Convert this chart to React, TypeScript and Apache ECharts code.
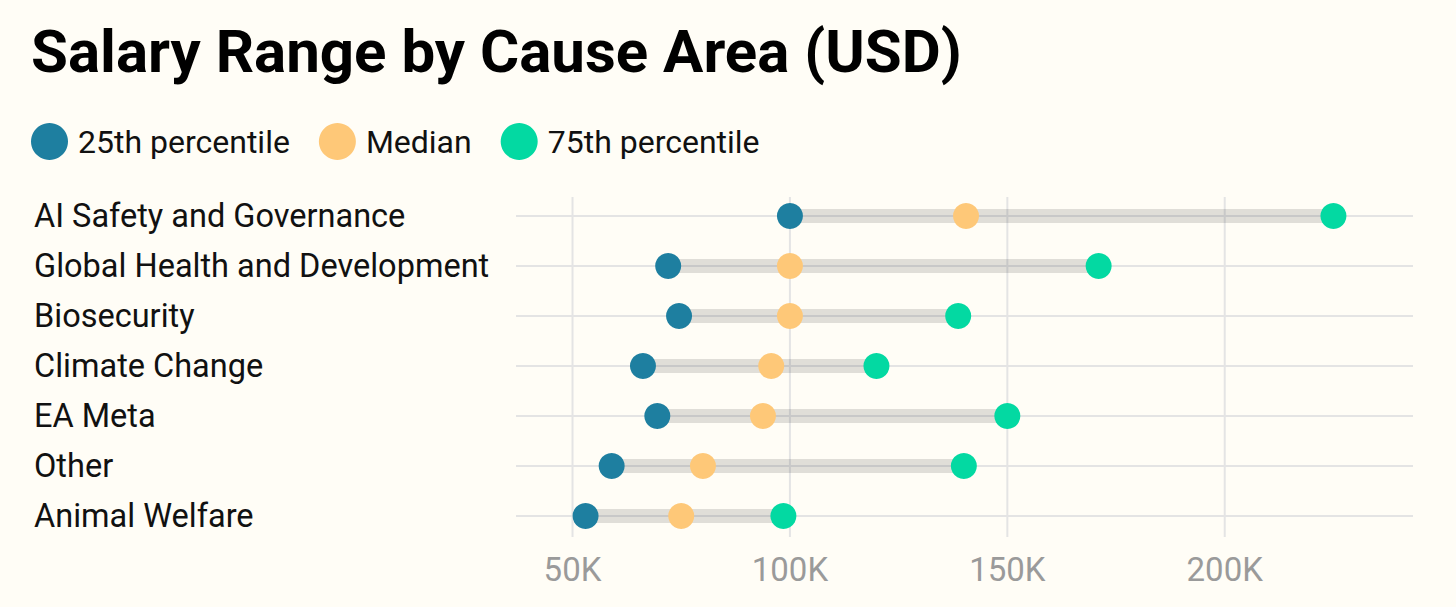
import React, { useEffect, useRef } from "react";
import * as echarts from "echarts";

const categories = [
  "AI Safety and Governance",
  "Global Health and Development",
  "Biosecurity",
  "Climate Change",
  "EA Meta",
  "Other",
  "Animal Welfare",
];
const p25 = [100000, 72000, 74500, 66200, 69500, 59000, 53000];
const median = [140500, 100000, 100000, 95700, 93800, 80000, 75000];
const p75 = [225000, 171000, 138700, 119900, 150000, 140000, 98500];
const xTicks = [50000, 100000, 150000, 200000];
const seriesNames = ["25th percentile", "Median", "75th percentile"];
const colors = ["#1e7fa0", "#fec878", "#03d9a2"];

const FONT = "Roboto, 'Noto Sans', sans-serif";

export default function App() {
  const ref = useRef<HTMLDivElement>(null);
  useEffect(() => {
    document.body.style.margin = "0";
    document.body.style.background = "#fffdf6";
    const chart = echarts.init(ref.current!, null, { renderer: "svg" });
    const option: any = {
      animation: false,
      backgroundColor: "#fffdf6",
      title: {
        text: "Salary Range by Cause Area (USD)",
        left: 31,
        top: 21,
        padding: 0,
        textStyle: { fontSize: 60, fontWeight: "bold", color: "#000", fontFamily: FONT },
      },
      legend: {
        data: seriesNames,
        left: 31,
        top: 123,
        padding: 0,
        icon: "circle",
        itemWidth: 37,
        itemHeight: 37,
        itemGap: 29,
        textStyle: { fontSize: 32, color: "#111", fontFamily: FONT, padding: [0, 0, 0, 5] },
      },
      grid: { left: 516, right: 43, top: 191, bottom: 66, containLabel: false },
      xAxis: {
        type: "value",
        min: 37000,
        max: 243300,
        axisLine: { show: false },
        axisTick: { show: false },
        splitLine: { show: false },
        axisLabel: {
          showMinLabel: false,
          showMaxLabel: false,
          margin: 12,
          fontSize: 33,
          color: "#9a9a9a",
          fontFamily: FONT,
          formatter: (v: number) => (v % 50000 === 0 ? v / 1000 + "K" : ""),
        },
      },
      yAxis: {
        type: "category",
        data: categories,
        inverse: true,
        axisLine: { show: false },
        axisTick: { show: false },
        splitLine: { show: false },
        axisLabel: {
          align: "left",
          margin: 482,
          fontSize: 32.5,
          color: "#111",
          fontFamily: FONT,
        },
      },
      series: [
        {
          type: "custom",
          name: "vgrid",
          z: 1,
          silent: true,
          data: xTicks.map((v) => [v, 0]),
          encode: { x: 0, y: 1 },
          renderItem: (params: any, api: any) => {
            const cs = params.coordSys;
            const x = api.coord([api.value(0), 0])[0];
            return {
              type: "line",
              shape: { x1: x, y1: cs.y + 6, x2: x, y2: cs.y + cs.height - 4 },
              style: { stroke: "#e4e4e4", lineWidth: 2 },
            };
          },
        },
        {
          type: "custom",
          name: "rows",
          z: 2,
          silent: true,
          data: categories.map((c, i) => [p25[i], p75[i], i]),
          encode: { x: [0, 1], y: 2 },
          renderItem: (params: any, api: any) => {
            const cs = params.coordSys;
            const idx = api.value(2);
            const a = api.coord([api.value(0), idx]);
            const b = api.coord([api.value(1), idx]);
            const y = a[1];
            return {
              type: "group",
              children: [
                {
                  type: "line",
                  shape: { x1: cs.x, y1: y, x2: cs.x + cs.width, y2: y },
                  style: { stroke: "#e4e4e4", lineWidth: 2 },
                },
                {
                  type: "rect",
                  shape: { x: a[0], y: y - 7, width: b[0] - a[0], height: 14 },
                  style: { fill: "rgba(0,0,0,0.12)" },
                },
              ],
            };
          },
        },
        ...[p25, median, p75].map((arr, k) => ({
          type: "scatter",
          name: seriesNames[k],
          z: 3 + k,
          symbol: "circle",
          symbolSize: 26,
          itemStyle: { color: colors[k], opacity: 1 },
          data: arr.map((v, i) => [v, i]),
        })),
      ],
    };
    chart.setOption(option);
    return () => chart.dispose();
  }, []);
  return <div ref={ref} style={{ width: 1456, height: 607 }} />;
}
